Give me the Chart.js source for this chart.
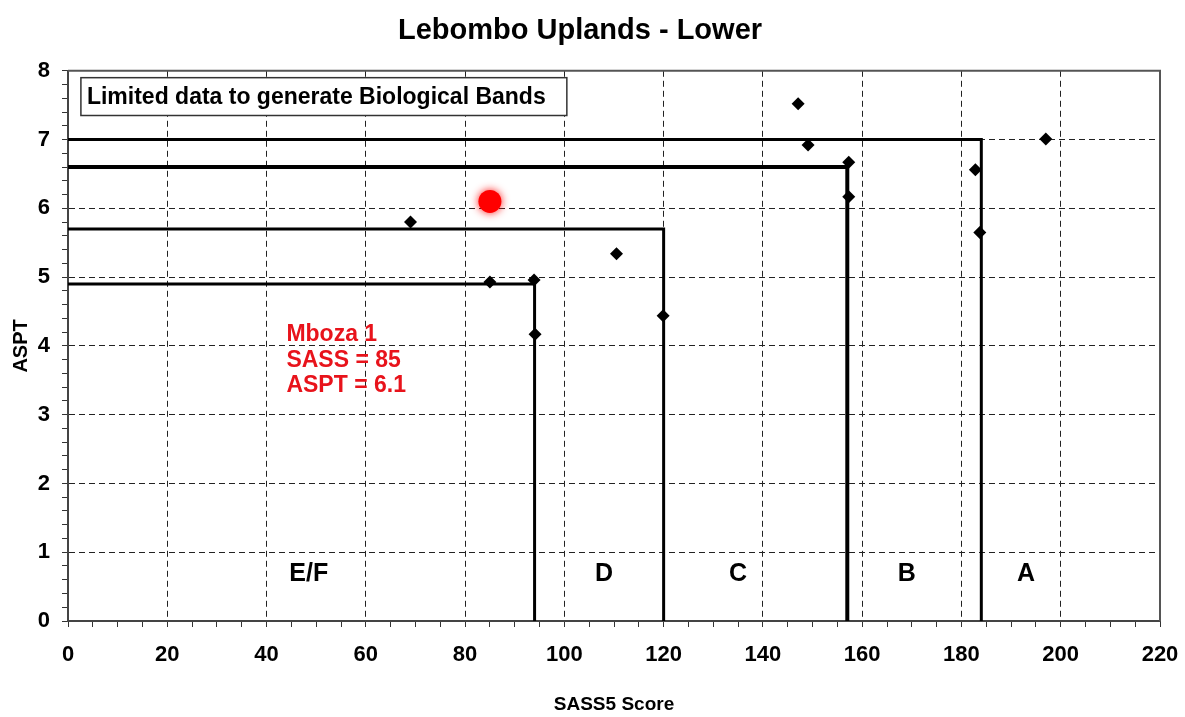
<!DOCTYPE html>
<html>
<head>
<meta charset="utf-8">
<script src="https://cdn.jsdelivr.net/npm/chart.js@4"></script>
<style>
html, body { margin: 0; padding: 0; background: #fff; }
#wrap { width: 1185px; height: 717px; }
</style>
</head>
<body>
<div id="wrap"><canvas id="c"></canvas></div>
<script>
const FONT = '"Liberation Sans", Arial, sans-serif';

// reference sites: SASS5 score vs ASPT
const siteSass = [69, 85, 93.9, 94.1, 110.5, 119.9, 147.1, 149.1, 157.3, 157.3, 182.8, 183.7, 197];
const siteAspt = [5.8, 4.93, 4.96, 4.17, 5.34, 4.44, 7.52, 6.92, 6.67, 6.17, 6.56, 5.65, 7.01];

// the site being assessed
const mbozaSass = [85];
const mbozaAspt = [6.1];
const mbozaText = ['Mboza 1', 'SASS = 85', 'ASPT = 6.1'];
const mbozaTextAt = [44, 4.16];

// biological band boundaries (SASS, ASPT)
const bandSass = [94, 120, 157, 184];
const bandAspt = [4.9, 5.7, 6.6, 7.0];
const bandNames = ['E/F', 'D', 'C', 'B', 'A'];
const bandNameSass = [48.5, 108, 135, 169, 193];
const bandNameAspt = [0.68, 0.68, 0.68, 0.68, 0.68];

const noteText = 'Limited data to generate Biological Bands';
const noteCorners = [2.6, 7.9, 100.5, 7.35];

const xRange = [0, 220], xMajor = 20, xMinor = 5;
const yRange = [0, 8], yMajor = 1, yMinor = 0.2;

const near = (v, step) => Math.abs(v / step - Math.round(v / step)) < 1e-6;

const extras = {
  id: 'extras',
  beforeDatasetDraw(chart, args) {
    if (args.index === 0) {
      const ctx = chart.ctx;
      ctx.save();
      ctx.shadowColor = 'rgba(255,0,0,0.9)';
      ctx.shadowBlur = 8;
    }
  },
  afterDatasetDraw(chart, args) {
    if (args.index === 0) chart.ctx.restore();
  },
  afterDatasetsDraw(chart) {
    const { ctx, chartArea: a, scales: { x, y } } = chart;
    ctx.save();
    // frame top / right
    ctx.strokeStyle = '#555';
    ctx.lineWidth = 2;
    ctx.beginPath();
    ctx.moveTo(a.left, a.top); ctx.lineTo(a.right, a.top); ctx.lineTo(a.right, a.bottom);
    ctx.stroke();

    // note box
    const bx0 = x.getPixelForValue(noteCorners[0]), by0 = y.getPixelForValue(noteCorners[1]);
    const bx1 = x.getPixelForValue(noteCorners[2]), by1 = y.getPixelForValue(noteCorners[3]);
    ctx.fillStyle = '#fff';
    ctx.fillRect(bx0, by0, bx1 - bx0, by1 - by0);
    ctx.strokeStyle = '#333';
    ctx.lineWidth = 1.5;
    ctx.strokeRect(bx0, by0, bx1 - bx0, by1 - by0);
    ctx.fillStyle = '#000';
    ctx.font = 'bold 23px ' + FONT;
    ctx.textBaseline = 'middle';
    ctx.textAlign = 'left';
    ctx.fillText(noteText, bx0 + 6, (by0 + by1) / 2 + 1);

    // band names
    ctx.font = 'bold 25px ' + FONT;
    ctx.textAlign = 'center';
    bandNames.forEach((n, i) => {
      ctx.fillText(n, x.getPixelForValue(bandNameSass[i]), y.getPixelForValue(bandNameAspt[i]));
    });

    // site label
    ctx.fillStyle = '#e8131b';
    ctx.font = 'bold 23px ' + FONT;
    ctx.textAlign = 'left';
    const lx = x.getPixelForValue(mbozaTextAt[0]), ly = y.getPixelForValue(mbozaTextAt[1]);
    mbozaText.forEach((t, i) => ctx.fillText(t, lx, ly + i * 25.5));
    ctx.restore();
  }
};

const bandSets = bandSass.map((s, i) => ({
  data: [{ x: 0, y: bandAspt[i] }, { x: s, y: bandAspt[i] }, { x: s, y: 0 }],
  showLine: true, borderColor: '#000', borderWidth: i === 2 ? 4 : 3,
  pointRadius: 0, tension: 0, fill: false
}));

new Chart(document.getElementById('c'), {
  type: 'scatter',
  data: {
    datasets: [
      { data: mbozaSass.map((v, i) => ({ x: v, y: mbozaAspt[i] })),
        pointStyle: 'circle', pointRadius: 11.5, backgroundColor: '#ff0000', borderWidth: 0 },
      { data: siteSass.map((v, i) => ({ x: v, y: siteAspt[i] })),
        pointStyle: 'rectRot', pointRadius: 6.5, backgroundColor: '#000', borderColor: '#000', borderWidth: 0 },
      ...bandSets
    ]
  },
  options: {
    responsive: true, maintainAspectRatio: false, animation: false,
    layout: { padding: { left: 0, right: 25, top: 0, bottom: 0 } },
    plugins: {
      legend: { display: false },
      tooltip: { enabled: false },
      title: {
        display: true, text: 'Lebombo Uplands - Lower', color: '#000',
        font: { family: FONT, size: 29, weight: 'bold' },
        padding: { top: 14, bottom: 22 }
      }
    },
    scales: {
      x: {
        type: 'linear', min: xRange[0], max: xRange[1],
        afterFit: s => { s.height = 96; s.paddingLeft = 0; s.paddingRight = 0; },
        ticks: {
          stepSize: xMinor, autoSkip: false, maxRotation: 0, color: '#000', padding: 15,
          font: { family: FONT, size: 22, weight: 'bold' },
          callback: v => near(v, xMajor) ? v : ''
        },
        grid: {
          color: c => c.tick && near(c.tick.value, xMajor) && c.tick.value > xRange[0] && c.tick.value < xRange[1] ? '#222' : 'rgba(0,0,0,0)',
          tickColor: '#333', tickLength: 6, lineWidth: 1
        },
        border: { display: true, color: '#444', width: 2, dash: [6, 4] },
        title: {
          display: true, text: 'SASS5 Score', color: '#000',
          font: { family: FONT, size: 19, weight: 'bold' },
          padding: { top: 0, bottom: 1 }
        }
      },
      y: {
        type: 'linear', min: yRange[0], max: yRange[1],
        afterFit: s => { s.width = 68; s.paddingTop = 0; s.paddingBottom = 0; },
        ticks: {
          stepSize: yMinor, autoSkip: false, color: '#000', padding: 12,
          font: { family: FONT, size: 22, weight: 'bold' },
          callback: v => near(v, yMajor) ? Math.round(v) : ''
        },
        grid: {
          color: c => c.tick && near(c.tick.value, yMajor) && c.tick.value > yRange[0] && c.tick.value < yRange[1] ? '#222' : 'rgba(0,0,0,0)',
          tickColor: '#333', tickLength: 6, lineWidth: 1
        },
        border: { display: true, color: '#444', width: 2, dash: [6, 4] },
        title: {
          display: true, text: 'ASPT', color: '#000',
          font: { family: FONT, size: 20, weight: 'bold' },
          padding: { top: 9, bottom: 0 }
        }
      }
    }
  },
  plugins: [extras]
});
</script>
</body>
</html>
